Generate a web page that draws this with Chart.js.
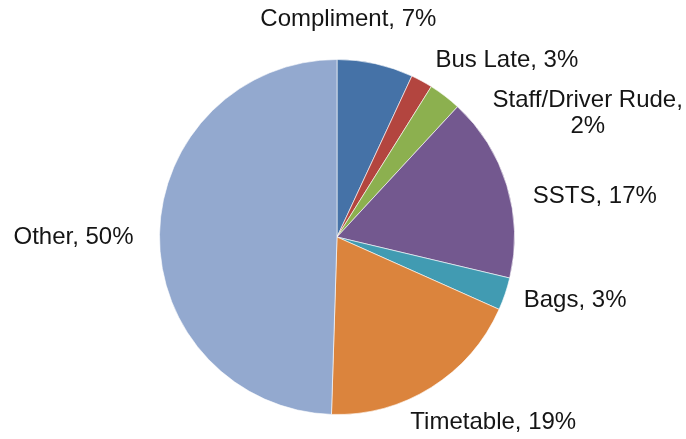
<!DOCTYPE html>
<html>
<head>
<meta charset="utf-8">
<script src="https://cdn.jsdelivr.net/npm/chart.js@4/dist/chart.umd.min.js"></script>
<style>
    html, body { margin: 0; padding: 0; background: #fff; }
    #wrap { position: relative; width: 686px; height: 439px; }
</style>
</head>
<body>
<div id="wrap"><canvas id="chart"></canvas></div>
<script>
// Complaint categories, in slice order (clockwise from 12 o'clock)
const categories = ['Compliment', 'Staff/Driver Rude', 'Bus Late', 'SSTS', 'Bags', 'Timetable', 'Other'];
const shares = [7, 2, 3, 17, 3, 19, 50];

const sliceColors = ['#4572A7', '#B3453F', '#8CB04F', '#73588F', '#419BB2', '#DB843D', '#93A9CF'];

// Where each label sits, relative to the point on the rim at the slice's mid angle
const labelOffsets = [[-27, -44], [166, 32], [62, -36], [88, 11], [70, 6], [62, 35], [-86, 3]];

const FONT = '24px "Liberation Sans", Arial, sans-serif';
const LINE_HEIGHT = 26;
const MAX_LABEL_WIDTH = 200;

/**
 * Draws "Name, NN%" beside each slice, wrapping long ones onto two lines
 */
const sliceLabels = {
    id: 'sliceLabels',
    afterDatasetsDraw(chart) {
        const { ctx } = chart;
        const meta = chart.getDatasetMeta(0);
        const values = chart.data.datasets[0].data;

        ctx.save();
        ctx.font = FONT;
        ctx.fillStyle = '#151515';
        ctx.textAlign = 'center';
        ctx.textBaseline = 'middle';

        meta.data.forEach((arc, i) => {
            const { x, y, startAngle, endAngle, outerRadius } = arc.getProps(
                ['x', 'y', 'startAngle', 'endAngle', 'outerRadius'], true);
            const mid = (startAngle + endAngle) / 2;
            const ax = x + Math.cos(mid) * outerRadius + labelOffsets[i][0];
            const ay = y + Math.sin(mid) * outerRadius + labelOffsets[i][1];

            const full = `${chart.data.labels[i]}, ${values[i]}%`;
            const lines = ctx.measureText(full).width > MAX_LABEL_WIDTH
                ? [`${chart.data.labels[i]},`, `${values[i]}%`]
                : [full];

            const top = ay - (lines.length - 1) * LINE_HEIGHT / 2;
            lines.forEach((line, j) => ctx.fillText(line, ax, top + j * LINE_HEIGHT));
        });

        ctx.restore();
    }
};

new Chart(document.getElementById('chart').getContext('2d'), {
    type: 'pie',
    data: {
        labels: categories,
        datasets: [{
            data: shares,
            backgroundColor: sliceColors,
            borderColor: 'rgba(255,255,255,0.6)',
            borderWidth: 1
        }]
    },
    options: {
        responsive: true,
        maintainAspectRatio: false,
        animation: false,
        layout: {
            padding: { left: 159, right: 171, top: 59, bottom: 24 }
        },
        plugins: {
            legend: { display: false },
            tooltip: { enabled: false }
        }
    },
    plugins: [sliceLabels]
});
</script>
</body>
</html>
